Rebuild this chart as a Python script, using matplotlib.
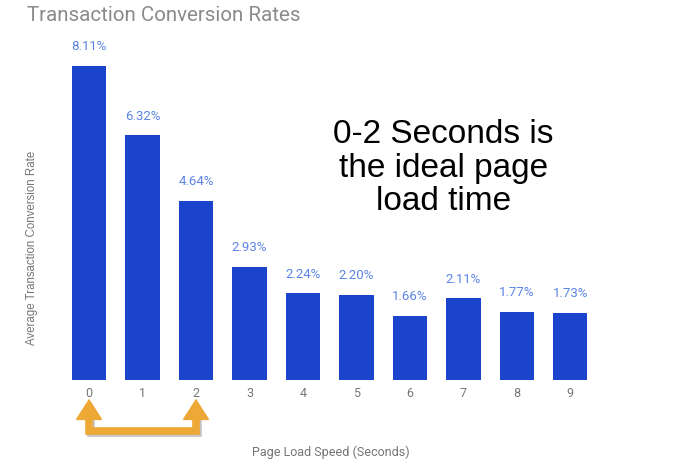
import matplotlib.pyplot as plt
import matplotlib.patheffects as pe

# data
seconds = [0, 1, 2, 3, 4, 5, 6, 7, 8, 9]
rates = [8.11, 6.32, 4.64, 2.93, 2.24, 2.20, 1.66, 2.11, 1.77, 1.73]
rate_labels = ["8.11%", "6.32%", "4.64%", "2.93%", "2.24%", "2.20%", "1.66%", "2.11%", "1.77%", "1.73%"]

bar_color = "#1a44cc"
label_color = "#5b84e6"
grey = "#757575"
orange = "#eea836"

plt.rcParams['font.family'] = ['Roboto', 'DejaVu Sans']

fig = plt.figure(figsize=(7, 4.67), dpi=100)
ax = fig.add_axes([0.089, 0.186, 0.764, 0.746])

ax.bar(seconds, rates, width=0.64, color=bar_color)
for x, v, lab in zip(seconds, rates, rate_labels):
    ax.text(x, v + 0.33, lab, ha='center', va='bottom', fontsize=9.5, color=label_color)

ax.set_xlim(-0.5, 9.5)
ax.set_ylim(0, 9)
ax.set_yticks([])
ax.set_xticks(seconds)
ax.tick_params(axis='x', length=0, colors=grey, labelsize=9, pad=5)
for s in ax.spines.values():
    s.set_visible(False)

fig.text(0.039, 0.966, "Transaction Conversion Rates", fontsize=14.8, color="#8a8a8a",
         ha='left', va='center')
fig.text(0.046, 0.47, "Average Transaction Conversion Rate", rotation=90, fontsize=8.3,
         color=grey, ha='center', va='center', family=['Liberation Sans', 'DejaVu Sans'])
fig.text(0.472, 0.032, "Page Load Speed (Seconds)", fontsize=9, color=grey,
         ha='center', va='center')

ax.text(6.62, 5.47, "0-2 Seconds is\nthe ideal page\nload time", fontsize=24, ha='center',
        va='center', color='black', family=['Liberation Sans', 'DejaVu Sans'],
        linespacing=1.1)

# orange bracket arrow under 0..2
shadow = [pe.SimpleLineShadow(offset=(1.5, -1.5), shadow_color='#555555', alpha=0.35), pe.Normal()]
ax.plot([0, 0, 2, 2], [-0.8, -1.32, -1.32, -0.8], color=orange, lw=5.5,
        solid_joinstyle='miter', clip_on=False, path_effects=shadow)
for xa in [0, 2]:
    ax.annotate("", xy=(xa, -0.48), xytext=(xa, -0.85), annotation_clip=False,
                arrowprops=dict(arrowstyle='-|>,head_length=1.4,head_width=0.9',
                                color=orange, lw=1, shrinkA=0, shrinkB=0,
                                joinstyle='miter'))

fig.savefig("out.png", dpi=100)
